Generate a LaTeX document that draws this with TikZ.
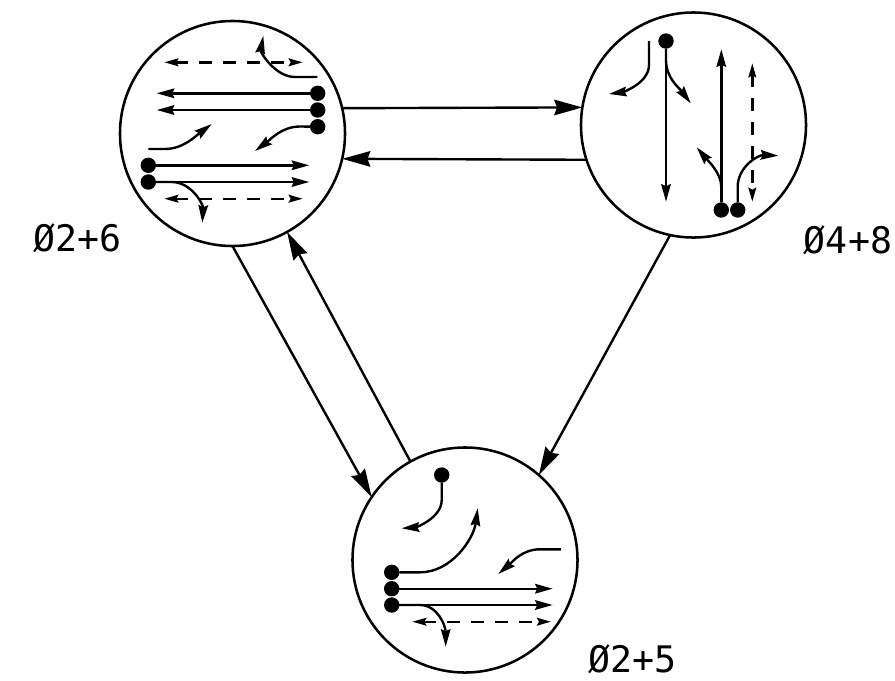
\documentclass[tikz,border=0pt]{standalone}
\usepackage{fontspec}
\newfontfamily\labelfont{DejaVu Sans Mono}
\usetikzlibrary{arrows.meta}
\tikzset{
	phase/.style={draw, circle, line width=1.8pt, minimum size=5.625cm, inner sep=0pt, outer sep=0pt},
	dot/.style={circle, fill=black, minimum size=0.385cm, inner sep=0pt, outer sep=0pt},
	move/.style={line width=1.7pt, -{Stealth[length=12.5pt,width=6.8pt,inset=1.5pt]}},
	ped/.style={line width=1.7pt, dash pattern=on 9pt off 8pt, {Stealth[length=10pt,width=5.5pt,inset=1.5pt]}-{Stealth[length=10pt,width=5.5pt,inset=1.5pt]}},
	link/.style={line width=1.7pt, -{Stealth[length=20pt,width=11pt,inset=2pt]}},
	phaselabel/.style={font=\labelfont\fontsize{26}{26}\selectfont, inner sep=0pt}
}
\begin{document}
\begin{tikzpicture}[x=0.025cm, y=-0.025cm]
	\useasboundingbox (0,0) rectangle (895,680);
	% fazisok
	\node[phase] (phaseA) at (232.5,133.5) {};
	\node[phase] (phaseB) at (693.5,125) {};
	\node[phase] (phaseC) at (465,560) {};
	\node[phaselabel] (labelA) at (77.5,238) {Ø2+6};
	\node[phaselabel] (labelB) at (848,240) {Ø4+8};
	\node[phaselabel] (labelC) at (632.5,659.5) {Ø2+5};
	% atmenetek
	\draw[link] (phaseA.13.26) -- (phaseB.171.15);
	\draw[link] (phaseB.198.1) -- (phaseA.-13.6);
	\draw[link] (phaseA.-90) -- (phaseC.146.2);
	\draw[link] (phaseC.119) -- (phaseA.-61.8);
	\draw[link] (phaseB.-102.7) -- (phaseC.49.8);
	% Ø2+6
	\node[dot] (aw) at (317.7,93.3) {};
	\node[dot] (ax) at (317.7,110) {};
	\node[dot] (ay) at (317.7,126.7) {};
	\node[dot] (ap) at (148.3,165.3) {};
	\node[dot] (aq) at (148.3,182) {};
	\coordinate (awEnd) at (156.7,93.3);
	\coordinate (axEnd) at (156.7,110);
	\coordinate (apEnd) at (309.3,165.3);
	\coordinate (aqEnd) at (309.3,182);
	\coordinate (ayMid) at (300,126.5);
	\coordinate (ayEnd) at (255,151);
	\coordinate (aqMid) at (171.7,182);
	\coordinate (aqTurn) at (202.3,222.7);
	\coordinate (ptS) at (317.3,77);
	\coordinate (ptM) at (295,77);
	\coordinate (ptE) at (263.3,36);
	\coordinate (plS) at (148.3,149);
	\coordinate (plM) at (165,149);
	\coordinate (plE) at (211.7,124);
	\coordinate (pedAl) at (164.3,62.3);
	\coordinate (pedAr) at (302.7,62.3);
	\coordinate (pedBl) at (164.3,198.7);
	\coordinate (pedBr) at (302.7,198.7);
	\draw[move] (aw) -- (awEnd);
	\draw[move] (ax) -- (axEnd);
	\draw[move] (ap) -- (apEnd);
	\draw[move] (aq) -- (aqEnd);
	\draw[move] (ay) -- (ayMid) .. controls +(-18,0) and +(16,-12) .. (ayEnd);
	\draw[move] (aq) -- (aqMid) .. controls +(20,0) and +(1,-18) .. (aqTurn);
	\draw[move] (ptS) -- (ptM) .. controls +(-20,0) and +(-3,16) .. (ptE);
	\draw[move] (plS) -- (plM) .. controls +(18,0) and +(-16,12) .. (plE);
	\draw[ped] (pedAl) -- (pedAr);
	\draw[ped] (pedBl) -- (pedBr);
	% Ø4+8
	\node[dot] (bt) at (666,41) {};
	\node[dot] (bp) at (721.3,210) {};
	\node[dot] (bq) at (737.7,210) {};
	\coordinate (btEnd) at (666,201.7);
	\coordinate (btMid) at (666,60);
	\coordinate (btTurn) at (690.7,103.3);
	\coordinate (blS) at (649,41);
	\coordinate (blM) at (649,65);
	\coordinate (blE) at (609,94);
	\coordinate (bpEnd) at (721.3,49.3);
	\coordinate (bpMid) at (721.3,186.7);
	\coordinate (bpTurn) at (696.7,147.3);
	\coordinate (bqMid) at (737.7,186.7);
	\coordinate (bqTurn) at (778.3,155.7);
	\coordinate (pedCt) at (752.3,63.3);
	\coordinate (pedCb) at (752.3,201.7);
	\draw[move] (bt) -- (btEnd);
	\draw[move] (bt) -- (btMid) .. controls +(0,18) and +(-12,-16) .. (btTurn);
	\draw[move] (blS) -- (blM) .. controls +(0,18) and +(14,-2) .. (blE);
	\draw[move] (bp) -- (bpEnd);
	\draw[move] (bp) -- (bpMid) .. controls +(0,-14) and +(10,12) .. (bpTurn);
	\draw[move] (bq) -- (bqMid) .. controls +(0,-20) and +(-20,-1) .. (bqTurn);
	\draw[ped] (pedCt) -- (pedCb);
	% Ø2+5
	\node[dot] (ct) at (441.7,475) {};
	\node[dot] (cp) at (391.7,572.3) {};
	\node[dot] (cq) at (391.7,588.7) {};
	\node[dot] (cr) at (391.7,605) {};
	\coordinate (ctMid) at (441.7,500);
	\coordinate (ctEnd) at (401.7,528.3);
	\coordinate (cpMid) at (420,572.3);
	\coordinate (cpEnd) at (477.7,508.3);
	\coordinate (cqEnd) at (552.7,588.7);
	\coordinate (crEnd) at (552.7,605);
	\coordinate (crMid) at (420,605);
	\coordinate (crTurn) at (445.7,646.7);
	\coordinate (rlS) at (561,549.3);
	\coordinate (rlM) at (540,549.3);
	\coordinate (rlE) at (498.3,574);
	\coordinate (pedDl) at (412.3,621.7);
	\coordinate (pedDr) at (551,621.7);
	\draw[move] (ct) -- (ctMid) .. controls +(0,18) and +(14,-1) .. (ctEnd);
	\draw[move] (cp) -- (cpMid) .. controls +(32,0) and +(-4,30) .. (cpEnd);
	\draw[move] (cq) -- (cqEnd);
	\draw[move] (cr) -- (crEnd);
	\draw[move] (cr) -- (crMid) .. controls +(18,0) and +(0,-20) .. (crTurn);
	\draw[move] (rlS) -- (rlM) .. controls +(-18,0) and +(14,-12) .. (rlE);
	\draw[ped] (pedDl) -- (pedDr);
\end{tikzpicture}
\end{document}
